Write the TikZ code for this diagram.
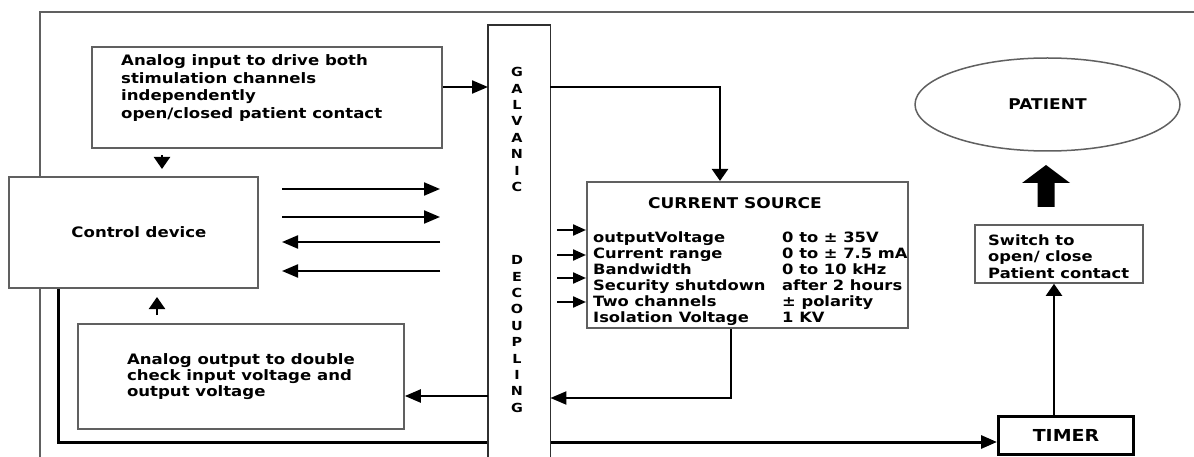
\documentclass[tikz,border=0pt]{standalone}
\usepackage{fontspec}
\setmainfont{DejaVu Sans}[FakeStretch=1.15]
\usetikzlibrary{arrows.meta,shapes.geometric}
\definecolor{boxgray}{HTML}{606060}
\definecolor{darkline}{HTML}{303030}
\begin{document}
\begin{tikzpicture}[x=1pt,y=-1pt,
  box/.style={draw=boxgray, line width=1.8pt, fill=white, inner sep=0pt, anchor=north west},
  arr/.style={line width=2.2pt, -{Triangle[length=16pt,width=13pt]}},
  varr/.style={line width=2.2pt, -{Triangle[length=12pt,width=16pt]}},
  txt/.style={inner sep=0pt, align=left, anchor=north west},
  f14/.style={font=\bfseries\fontsize{14.4}{17.7}\selectfont},
]
\useasboundingbox (0,0) rectangle (1194,457);
\fill[white] (0,0) rectangle (1194,457);

% helper coordinates
\coordinate (y87) at (0,87);
\coordinate (x720) at (720,0);
\coordinate (x731) at (731,0);
\coordinate (y398) at (0,398);
\coordinate (y396) at (0,396);
\coordinate (x58) at (58,0);
\coordinate (y442) at (0,442);
\coordinate (x1054) at (1054,0);

% outer frame
\draw[boxgray, line width=2pt] (1194,12) -- (40,12) -- (40,460);

% timer
\node[draw=black, line width=3pt, fill=white, minimum width=135pt, minimum height=38pt,
      anchor=north west, inner sep=0pt, font=\bfseries\fontsize{16.5}{20}\selectfont]
      (timer) at (997,415) {TIMER\hspace{20pt}};

% control device
\node[box, minimum width=249pt, minimum height=111pt, f14] (ctrl) at (8,176) {\hspace{11pt}Control device};
\draw[line width=3pt, -{Triangle[length=16pt,width=13pt]}] (ctrl.south -| x58) |- (timer.west |- y442);

% galvanic decoupling
\node[fill=white, inner sep=0pt, minimum width=62pt, minimum height=440pt, anchor=north west] (galv) at (488,25) {};
\draw[darkline, line width=1.8pt] (galv.south west) -- (galv.north west) -- (galv.north east) -- (galv.south east);
\node[inner sep=0pt, align=center, font=\bfseries\fontsize{12.5}{16.4}\selectfont] (galvtxt) at (517,129.5) {G\\A\\L\\V\\A\\N\\I\\C};
\node[inner sep=0pt, align=center, font=\bfseries\fontsize{12.5}{16.4}\selectfont] (decotxt) at (517,334) {D\\E\\C\\O\\U\\P\\L\\I\\N\\G};

% analog input
\node[box, minimum width=350pt, minimum height=101pt] (ain) at (91,46) {};
\node[txt, f14] (aintxt) at (121,54.3) {Analog input to drive both\\stimulation channels\\independently\\open/closed patient contact};

% analog output
\node[box, minimum width=326pt, minimum height=105pt, align=left, font=\bfseries\fontsize{14.4}{16}\selectfont] (aout) at (77,323) {Analog output to double\\check input voltage and\\output voltage};

% current source
\node[box, minimum width=321pt, minimum height=146pt] (cs) at (586,181) {};
\node[inner sep=0pt, font=\bfseries\fontsize{14.8}{17}\selectfont] (cstitle) at (735,203.5) {CURRENT SOURCE};
\node[txt, font=\bfseries\fontsize{14.2}{16}\selectfont] (cstab) at (593,231.3) {%
\makebox[189pt][l]{outputVoltage}0 to ± 35V\\
\makebox[189pt][l]{Current range}0 to ± 7.5 mA\\
\makebox[189pt][l]{Bandwidth}0 to 10 kHz\\
\makebox[189pt][l]{Security shutdown}after 2 hours\\
\makebox[189pt][l]{Two channels}± polarity\\
\makebox[189pt][l]{Isolation Voltage}1 KV};

% switch
\node[box, minimum width=168pt, minimum height=58pt] (sw) at (974,224) {};
\node[txt, font=\bfseries\fontsize{14.2}{16.5}\selectfont] (swtxt) at (988,234.5) {Switch to\\open/ close\\Patient contact};

% patient
\node[ellipse, draw=boxgray, line width=1.5pt, minimum width=265pt, minimum height=93pt, inner sep=0pt,
      font=\bfseries\fontsize{14.8}{17}\selectfont] (pat) at (1047.5,104.5) {PATIENT};

% connectors
\draw[arr] (ain.east |- y87) -- (galv.west |- y87);
\draw[varr] (galv.east |- y87) -| (cs.north -| x720);

\coordinate (d1) at (162,155);
\draw[varr] (d1) -- ++(0,14);
\coordinate (u1) at (157,315);
\draw[varr] (u1) -- ++(0,-18);

\coordinate (r1) at (282,189); \coordinate (r1e) at (440,189);
\coordinate (r2) at (282,217); \coordinate (r2e) at (440,217);
\coordinate (l1) at (440,242); \coordinate (l1e) at (282,242);
\coordinate (l2) at (440,271); \coordinate (l2e) at (282,271);
\draw[arr] (r1) -- (r1e);
\draw[arr] (r2) -- (r2e);
\draw[arr] (l1) -- (l1e);
\draw[arr] (l2) -- (l2e);

\coordinate (s1) at (557,230);
\coordinate (s2) at (557,255);
\coordinate (s3) at (557,278);
\coordinate (s4) at (557,302);
\foreach \s in {s1,s2,s3,s4} \draw[line width=2.2pt, -{Triangle[length=13pt,width=11pt]}] (\s) -- (cs.west |- \s);

\draw[arr] (cs.south -| x731) |- (galv.east |- y398);
\draw[arr] (galv.west |- y396) -- (aout.east |- y396);

\draw[varr] (timer.north -| x1054) -- (sw.south -| x1054);

% block arrow switch -> patient
\fill (1037.5,207) -- (1037.5,183) -- (1022,183) -- (1046,165) -- (1070,183) -- (1054.5,183) -- (1054.5,207) -- cycle;
\end{tikzpicture}
\end{document}
